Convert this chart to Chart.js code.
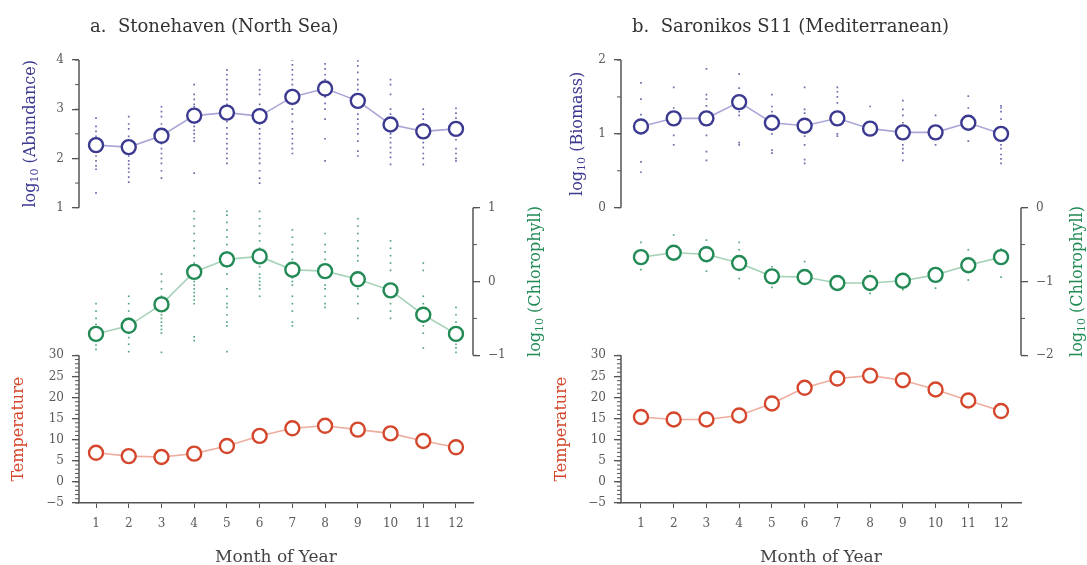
<!DOCTYPE html>
<html>
<head>
<meta charset="utf-8">
<script src="https://cdn.jsdelivr.net/npm/chart.js@4.4.1/dist/chart.umd.min.js"></script>
<style>
  html, body { margin: 0; padding: 0; background: #fff; }
  #wrap { position: relative; width: 1087px; height: 565px; }
  #wrap canvas { position: absolute; left: 0; top: 0; }
</style>
</head>
<body>
<div id="wrap">
  <canvas id="chartA" width="1087" height="565"></canvas>
  <canvas id="chartB" width="1087" height="565"></canvas>
</div>
<script>
// --- Datos ---
const months = [1, 2, 3, 4, 5, 6, 7, 8, 9, 10, 11, 12];

// a. Stonehaven
const stoneAbundMean = [2.27, 2.23, 2.46, 2.87, 2.93, 2.86, 3.25, 3.42, 3.17, 2.69, 2.55, 2.60];
const stoneAbundObs = [
  [2.82, 2.65, 2.55, 2.45, 2.35, 2.15, 2.05, 1.95, 1.85, 1.78, 1.3],
  [2.85, 2.7, 2.6, 2.45, 2.35, 2.12, 2.05, 1.95, 1.88, 1.8, 1.72, 1.62, 1.52],
  [3.05, 2.95, 2.85, 2.7, 2.6, 2.3, 2.2, 2.1, 2.0, 1.9, 1.75, 1.6],
  [3.5, 3.3, 3.2, 3.1, 3.05, 2.72, 2.65, 2.57, 2.5, 2.42, 2.35, 1.7, 0.95],
  [3.8, 3.7, 3.6, 3.5, 3.4, 3.3, 3.2, 3.1, 2.75, 2.62, 2.5, 2.4, 2.3, 2.2, 2.1, 2.0, 1.9],
  [3.8, 3.7, 3.6, 3.5, 3.4, 3.3, 3.1, 3.0, 2.7, 2.6, 2.5, 2.4, 2.3, 2.2, 2.1, 2.0, 1.9, 1.75, 1.6, 1.5, 0.95],
  [4.0, 3.9, 3.8, 3.7, 3.6, 3.5, 3.4, 3.1, 3.0, 2.9, 2.75, 2.6, 2.5, 2.4, 2.3, 2.2, 2.1],
  [3.92, 3.82, 3.7, 3.6, 3.25, 3.12, 3.0, 2.8, 2.4, 1.95],
  [3.98, 3.88, 3.75, 3.6, 3.5, 3.4, 3.02, 2.9, 2.8, 2.7, 2.6, 2.5, 2.35, 2.15, 2.05],
  [3.6, 3.5, 3.3, 3.0, 2.9, 2.5, 2.42, 2.32, 2.22, 2.12, 2.02, 1.88],
  [3.0, 2.9, 2.8, 2.7, 2.42, 2.32, 2.22, 2.1, 2.0, 1.88],
  [3.02, 2.92, 2.82, 2.72, 2.48, 2.38, 2.2, 2.1, 2.0, 1.95]
];
const stoneChlMean = [-0.71, -0.60, -0.31, 0.13, 0.30, 0.34, 0.16, 0.14, 0.03, -0.12, -0.45, -0.71];
const stoneChlObs = [
  [-0.3, -0.4, -0.5, -0.58, -0.65, -0.8, -0.86, -0.92],
  [-0.2, -0.3, -0.4, -0.5, -0.7, -0.76, -0.85, -0.95],
  [0.1, 0.0, -0.1, -0.2, -0.4, -0.45, -0.5, -0.55, -0.6, -0.65, -0.7, -0.96],
  [0.95, 0.85, 0.75, 0.65, 0.55, 0.45, 0.35, 0.25, 0.0, -0.05, -0.1, -0.15, -0.2, -0.25, -0.3, -0.75, -0.8],
  [0.95, 0.9, 0.8, 0.7, 0.6, 0.5, 0.4, 0.2, 0.1, -0.1, -0.2, -0.3, -0.35, -0.45, -0.55, -0.6, -0.95],
  [0.95, 0.85, 0.75, 0.65, 0.55, 0.45, 0.4, 0.25, 0.2, 0.1, 0.05, 0.0, -0.05, -0.1, -0.2],
  [0.7, 0.6, 0.5, 0.4, 0.3, 0.05, 0.0, -0.05, -0.2, -0.3, -0.4, -0.55, -0.6],
  [0.65, 0.5, 0.4, 0.3, 0.2, 0.05, -0.05, -0.1, -0.2, -0.3, -0.35],
  [0.85, 0.75, 0.65, 0.55, 0.45, 0.35, 0.28, -0.05, -0.1, -0.2, -0.3, -0.5],
  [0.55, 0.45, 0.35, 0.25, 0.15, -0.2, -0.3, -0.4, -0.5],
  [0.25, 0.15, -0.2, -0.3, -0.55, -0.6, -0.7, -0.9],
  [-0.35, -0.45, -0.55, -0.8, -0.85, -0.9, -0.96]
];
const stoneTemp = [6.9, 6.1, 5.9, 6.7, 8.5, 10.9, 12.7, 13.3, 12.4, 11.5, 9.7, 8.2];

// b. Saronikos S11
const saronBioMean = [1.10, 1.21, 1.21, 1.43, 1.15, 1.11, 1.21, 1.07, 1.02, 1.02, 1.15, 1.00];
const saronBioObs = [
  [1.69, 1.47, 1.26, 0.62, 0.48],
  [1.63, 1.35, 1.28, 0.98, 0.85],
  [1.88, 1.53, 1.47, 1.38, 1.12, 0.98, 0.76, 0.64],
  [1.81, 1.62, 1.5, 1.3, 1.25, 0.88, 0.85],
  [1.53, 1.37, 1.3, 1.0, 0.78, 0.74],
  [1.63, 1.33, 1.28, 0.97, 0.85, 0.65, 0.6],
  [1.63, 1.57, 1.5, 1.42, 1.3, 1.0, 0.97],
  [1.37],
  [1.45, 1.33, 1.25, 1.15, 0.85, 0.8, 0.74, 0.64],
  [1.25, 0.85],
  [1.51, 1.35, 0.9],
  [1.38, 1.35, 1.3, 1.2, 0.85, 0.8, 0.72, 0.66, 0.6]
];
const saronChlMean = [-0.67, -0.61, -0.63, -0.75, -0.93, -0.94, -1.02, -1.02, -0.99, -0.91, -0.78, -0.67];
const saronChlObs = [
  [-0.47, -0.84], [-0.37], [-0.44, -0.86], [-0.47, -0.57, -0.96],
  [-0.8, -1.08], [-0.73], [], [-0.86, -1.16],
  [-1.11], [-1.09], [-0.57, -0.98], [-0.56, -0.94]
];
const saronTemp = [15.4, 14.8, 14.8, 15.75, 18.6, 22.3, 24.5, 25.2, 24.1, 21.9, 19.3, 16.8];

// tick labels
const abundTicks = [1, 2, 3, 4];
const bioTicks = [0, 1, 2];
const chlTicksA = [-1, 0, 1];
const chlTicksB = [-2, -1, 0];
const tempTicks = [-5, 0, 5, 10, 15, 20, 25, 30];

// --- Estilo ---
const SERIF = '"DejaVu Serif", "Liberation Serif", serif';
const AXIS = '#555';
const TICK = '#5a5a5a';
const PURPLE = '#3b3990', PURPLE_LINE = '#aaa7d6', PURPLE_DOT = 'rgba(59,57,144,0.75)';
const GREEN = '#218a55', GREEN_LINE = '#a6d2b8', GREEN_DOT = 'rgba(33,138,85,0.75)';
const RED = '#d4472c', RED_LINE = '#eeae9f';
const AXIS_BOX = 40; // ancho de la caja de cada eje y

const fmt = v => String(v).replace('-', '\u2212');

// ejes y: el de arriba ocupa 1/3, temperatura los 2/3 de abajo (stack),
// clorofila ocupa todo el alto pero solo se rotula su tercio del medio
function yScale(opts) {
  return Object.assign({
    type: 'linear',
    afterFit: s => { s.width = AXIS_BOX; },
    afterBuildTicks: s => { s.ticks = opts.tickVals.map(v => ({ value: v })); },
    border: { display: false },
    grid: { drawOnChartArea: false, drawTicks: true, tickLength: 7, color: AXIS, lineWidth: 1.3 },
    ticks: { color: TICK, font: { family: SERIF, size: 12 }, padding: 8, autoSkip: false, callback: v => fmt(v) }
  }, opts.extra);
}

const toPoints = obs => obs.flatMap((vals, i) => vals.map(v => ({ x: months[i], y: v })));
const toMean = vals => vals.map((v, i) => ({ x: months[i], y: v }));

function meanSet(vals, axis, color, lineColor) {
  return {
    data: toMean(vals), yAxisID: axis, showLine: true, order: 0,
    borderColor: lineColor, borderWidth: 1.6,
    pointRadius: 7, pointBorderWidth: 2.4, pointBorderColor: color, pointBackgroundColor: '#fff'
  };
}
function dotSet(obs, axis, color) {
  return {
    data: toPoints(obs), yAxisID: axis, showLine: false, order: 1,
    pointStyle: 'rect', pointRadius: 1.2, pointBorderWidth: 0, pointBackgroundColor: color
  };
}

// --- Plugin: líneas de eje, ticks menores y títulos ---
function drawRotated(ctx, parts, cx, cy, color) {
  const big = `16px ${SERIF}`, small = `11px ${SERIF}`;
  let w = 0;
  parts.forEach(p => { ctx.font = p.sub ? small : big; w += ctx.measureText(p.t).width; });
  ctx.save();
  ctx.translate(cx, cy);
  ctx.rotate(-Math.PI / 2);
  ctx.fillStyle = color;
  ctx.textAlign = 'left';
  ctx.textBaseline = 'middle';
  let x = -w / 2;
  parts.forEach(p => {
    ctx.font = p.sub ? small : big;
    ctx.fillText(p.t, x, p.sub ? 4 : 0);
    x += ctx.measureText(p.t).width;
  });
  ctx.restore();
}

const panelDecor = {
  id: 'panelDecor',
  afterDraw(chart, args, opts) {
    const ctx = chart.ctx, area = chart.chartArea;
    ctx.save();
    opts.axes.forEach(a => {
      const s = chart.scales[a.id];
      const x = a.side === 'left' ? area.left : area.right;
      const dir = a.side === 'left' ? -1 : 1;
      ctx.strokeStyle = AXIS;
      ctx.lineWidth = 1.5;
      ctx.beginPath();
      ctx.moveTo(x, s.getPixelForValue(a.lo));
      ctx.lineTo(x, s.getPixelForValue(a.hi));
      ctx.stroke();
      ctx.lineWidth = 1;
      for (let v = a.lo; v <= a.hi + 1e-9; v += a.minor) {
        const y = s.getPixelForValue(v);
        ctx.beginPath(); ctx.moveTo(x, y); ctx.lineTo(x + dir * 4, y); ctx.stroke();
      }
      const yc = (s.getPixelForValue(a.lo) + s.getPixelForValue(a.hi)) / 2;
      drawRotated(ctx, a.label, x + a.dx, yc, a.color);
    });
    ctx.fillStyle = '#333';
    ctx.font = `18px ${SERIF}`;
    ctx.textAlign = 'left';
    ctx.textBaseline = 'alphabetic';
    ctx.fillText(opts.title, area.left + 11, 32);
    ctx.restore();
  }
};

const logLabel = name => [{ t: 'log' }, { t: '10', sub: true }, { t: ' (' + name + ')' }];

function buildPanel(canvasId, p) {
  const chlSpan = p.chlHi - p.chlLo;
  return new Chart(document.getElementById(canvasId), {
    type: 'scatter',
    data: {
      datasets: [
        meanSet(p.topMean, 'yA', PURPLE, PURPLE_LINE),
        dotSet(p.topObs, 'yA', PURPLE_DOT),
        meanSet(p.chlMean, 'yC', GREEN, GREEN_LINE),
        dotSet(p.chlObs, 'yC', GREEN_DOT),
        meanSet(p.temp, 'yT', RED, RED_LINE)
      ]
    },
    options: {
      responsive: false,
      animation: false,
      events: [],
      layout: { padding: p.padding },
      plugins: {
        legend: { display: false },
        tooltip: { enabled: false },
        panelDecor: {
          title: p.title,
          axes: [
            { id: 'yA', side: 'left', lo: p.topLo, hi: p.topHi, minor: 0.5, dx: p.topDx, label: logLabel(p.topName), color: PURPLE },
            { id: 'yC', side: 'right', lo: p.chlLo, hi: p.chlHi, minor: 0.5, dx: p.chlDx, label: logLabel('Chlorophyll'), color: GREEN },
            { id: 'yT', side: 'left', lo: -5, hi: 30, minor: 1, dx: p.tempDx, label: [{ t: 'Temperature' }], color: RED }
          ]
        }
      },
      scales: {
        x: {
          type: 'linear', min: p.xMin, max: p.xMax,
          afterFit: s => { s.height = 62; },
          afterBuildTicks: s => { s.ticks = months.map(v => ({ value: v })); },
          border: { display: true, color: AXIS, width: 1.5 },
          grid: { drawOnChartArea: false, drawTicks: true, tickLength: 5, color: AXIS },
          ticks: { color: TICK, font: { family: SERIF, size: 12 }, padding: 9, autoSkip: false, maxRotation: 0 },
          title: { display: true, text: 'Month of Year', color: '#444', font: { family: SERIF, size: 17 }, padding: { top: 0, bottom: -3 } }
        },
        yA: yScale({ tickVals: p.topTicks, extra: {
          position: 'left', stack: 'left', stackWeight: 1, weight: 1, min: p.topLo, max: p.topHi } }),
        yT: yScale({ tickVals: tempTicks, extra: {
          position: 'left', stack: 'left', stackWeight: 2, weight: 0, min: -5, max: 65 } }),
        yC: yScale({ tickVals: p.chlTicks, extra: {
          position: 'right', min: p.chlLo - chlSpan, max: p.chlHi + chlSpan } })
      }
    },
    plugins: [panelDecor]
  });
}

// --- Crear gráficos ---
buildPanel('chartA', {
  title: 'a.  Stonehaven (North Sea)',
  padding: { left: 79 - AXIS_BOX, right: 1087 - 473 - AXIS_BOX, top: 60, bottom: 0 },
  xMin: 0.48, xMax: 12.52,
  topMean: stoneAbundMean, topObs: stoneAbundObs, topLo: 1, topHi: 4, topTicks: abundTicks, topName: 'Abundance', topDx: -48,
  chlMean: stoneChlMean, chlObs: stoneChlObs, chlLo: -1, chlHi: 1, chlTicks: chlTicksA, chlDx: 63,
  temp: stoneTemp, tempDx: -60
});

buildPanel('chartB', {
  title: 'b.  Saronikos S11 (Mediterranean)',
  padding: { left: 621 - AXIS_BOX, right: 1087 - 1021 - AXIS_BOX, top: 60, bottom: 0 },
  xMin: 0.39, xMax: 12.61,
  topMean: saronBioMean, topObs: saronBioObs, topLo: 0, topHi: 2, topTicks: bioTicks, topName: 'Biomass', topDx: -43,
  chlMean: saronChlMean, chlObs: saronChlObs, chlLo: -2, chlHi: 0, chlTicks: chlTicksB, chlDx: 57,
  temp: saronTemp, tempDx: -59
});
</script>
</body>
</html>
